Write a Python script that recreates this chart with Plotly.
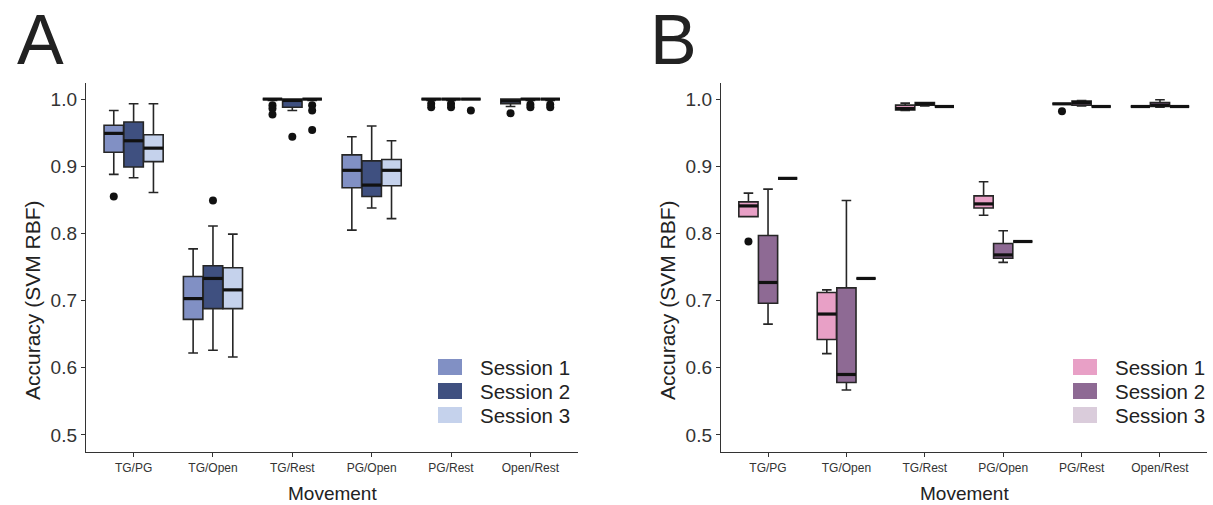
import plotly.graph_objects as go

movements = ["TG/PG", "TG/Open", "TG/Rest", "PG/Open", "PG/Rest", "Open/Rest"]
sessions = ["Session 1", "Session 2", "Session 3"]

# ---------------- Panel A (summary statistics per movement) ----------------
A_s1_lo = [0.888, 0.622, 0.998, 0.805, 0.998, 0.989]
A_s1_q1 = [0.921, 0.672, 1.000, 0.868, 1.000, 0.993]
A_s1_md = [0.949, 0.703, 1.000, 0.894, 1.000, 0.997]
A_s1_q3 = [0.961, 0.736, 1.000, 0.917, 1.000, 1.000]
A_s1_hi = [0.983, 0.777, 1.000, 0.944, 1.000, 1.000]
A_s1_out = [[0.855], [], [0.991, 0.986, 0.977], [], [0.993, 0.988], [0.979]]

A_s2_lo = [0.883, 0.626, 0.983, 0.838, 0.998, 0.998]
A_s2_q1 = [0.899, 0.688, 0.988, 0.855, 1.000, 1.000]
A_s2_md = [0.938, 0.733, 0.998, 0.872, 1.000, 1.000]
A_s2_q3 = [0.966, 0.752, 1.000, 0.908, 1.000, 1.000]
A_s2_hi = [0.993, 0.811, 1.000, 0.960, 1.000, 1.000]
A_s2_out = [[], [0.849], [0.944], [], [0.993, 0.988], [0.992, 0.988]]

A_s3_lo = [0.861, 0.616, 0.998, 0.822, 1.000, 0.998]
A_s3_q1 = [0.907, 0.688, 1.000, 0.871, 1.000, 1.000]
A_s3_md = [0.927, 0.716, 1.000, 0.894, 1.000, 1.000]
A_s3_q3 = [0.947, 0.749, 1.000, 0.910, 1.000, 1.000]
A_s3_hi = [0.993, 0.799, 1.000, 0.938, 1.000, 1.000]
A_s3_out = [[], [], [0.991, 0.983, 0.954], [], [0.983], [0.992, 0.988]]

# ---------------- Panel B ----------------
B_s1_lo = [0.825, 0.621, 0.983, 0.827, 0.993, 0.989]
B_s1_q1 = [0.825, 0.642, 0.984, 0.838, 0.993, 0.989]
B_s1_md = [0.841, 0.680, 0.986, 0.844, 0.993, 0.989]
B_s1_q3 = [0.847, 0.712, 0.991, 0.856, 0.993, 0.989]
B_s1_hi = [0.860, 0.716, 0.994, 0.877, 0.993, 0.989]
B_s1_out = [[0.788], [], [], [], [0.982], []]

B_s2_lo = [0.665, 0.567, 0.990, 0.757, 0.990, 0.988]
B_s2_q1 = [0.696, 0.578, 0.991, 0.763, 0.991, 0.989]
B_s2_md = [0.727, 0.590, 0.993, 0.768, 0.995, 0.991]
B_s2_q3 = [0.797, 0.719, 0.995, 0.785, 0.997, 0.995]
B_s2_hi = [0.866, 0.849, 0.995, 0.804, 0.998, 0.999]
B_s2_out = [[], [], [], [], [], []]

B_s3_val = [0.882, 0.733, 0.989, 0.788, 0.989, 0.989]
B_s3_out = [[], [], [], [], [], []]

colors_A = ["#8190C4", "#3F5080", "#C5D2EC"]
colors_B = ["#E8A0C6", "#8E6A94", "#DACCDB"]

offsets = [-0.25, 0.0, 0.25]
box_w = 0.245
FONT = "Liberation Sans, Arial, Helvetica, sans-serif"
W, H = 1213, 505

panels = [
    dict(xa="x", ya="y", colors=colors_A, leg_x=438,
         stats=[(A_s1_lo, A_s1_q1, A_s1_md, A_s1_q3, A_s1_hi, A_s1_out),
                (A_s2_lo, A_s2_q1, A_s2_md, A_s2_q3, A_s2_hi, A_s2_out),
                (A_s3_lo, A_s3_q1, A_s3_md, A_s3_q3, A_s3_hi, A_s3_out)]),
    dict(xa="x2", ya="y2", colors=colors_B, leg_x=1073,
         stats=[(B_s1_lo, B_s1_q1, B_s1_md, B_s1_q3, B_s1_hi, B_s1_out),
                (B_s2_lo, B_s2_q1, B_s2_md, B_s2_q3, B_s2_hi, B_s2_out),
                (B_s3_val, B_s3_val, B_s3_val, B_s3_val, B_s3_val, B_s3_out)]),
]

fig = go.Figure()
idx = list(range(1, len(movements) + 1))
shapes, ann = [], []
leg_rows = [367, 391, 415]

for p in panels:
    for s, (lo, q1, md, q3, hi, out) in enumerate(p["stats"]):
        xs = [i + offsets[s] for i in idx]
        fig.add_trace(go.Box(
            x=xs, lowerfence=lo, q1=q1, median=md, q3=q3, upperfence=hi,
            width=box_w, whiskerwidth=0.5,
            fillcolor=p["colors"][s], line=dict(color="#262626", width=1.6),
            xaxis=p["xa"], yaxis=p["ya"], showlegend=False, hoverinfo="skip",
        ))
        # thick median lines (ggplot style)
        mx, my = [], []
        for x, m in zip(xs, md):
            mx += [x - box_w / 2, x + box_w / 2, None]
            my += [m, m, None]
        fig.add_trace(go.Scatter(x=mx, y=my, mode="lines",
                                 line=dict(color="#111111", width=3.2),
                                 xaxis=p["xa"], yaxis=p["ya"], showlegend=False,
                                 hoverinfo="skip"))
        # outliers
        ox, oy = [], []
        for x, vals in zip(xs, out):
            for v in vals:
                ox.append(x)
                oy.append(v)
        if ox:
            fig.add_trace(go.Scatter(x=ox, y=oy, mode="markers",
                                     marker=dict(color="#111111", size=8),
                                     xaxis=p["xa"], yaxis=p["ya"], showlegend=False,
                                     hoverinfo="skip"))
        # manual legend key (filled square + label)
        cy = leg_rows[s]
        shapes.append(dict(type="rect", xref="paper", yref="paper",
                           x0=p["leg_x"] / W, x1=(p["leg_x"] + 24) / W,
                           y0=1 - (cy + 8) / H, y1=1 - (cy - 8) / H,
                           fillcolor=p["colors"][s], line=dict(width=0)))
        ann.append(dict(text=sessions[s], x=(p["leg_x"] + 40) / W, y=1 - cy / H,
                        xref="paper", yref="paper", xanchor="left", yanchor="middle",
                        showarrow=False,
                        font=dict(family=FONT, size=20.5, color="#222222")))

axis_common = dict(showgrid=False, zeroline=False, showline=True, linecolor="#333333",
                   linewidth=1.4, ticks="outside", ticklen=4, tickwidth=1.2,
                   tickcolor="#333333")

ydom = [1 - 452 / H, 1 - 83 / H]

xa = dict(axis_common, range=[0.4, 6.6], tickvals=idx, ticktext=movements,
          tickfont=dict(family=FONT, size=12, color="#333333"))
ya = dict(axis_common, range=[0.4746, 1.024], tickvals=[0.5, 0.6, 0.7, 0.8, 0.9, 1.0],
          tickformat=".1f", tickfont=dict(family=FONT, size=19, color="#333333"),
          domain=ydom)

for letter, x in [("A", 40 / W), ("B", 673 / W)]:
    ann.append(dict(text=letter, x=x, y=1 - 40 / H, xref="paper", yref="paper",
                    xanchor="center", yanchor="middle", showarrow=False,
                    font=dict(family=FONT, size=70, color="#222222")))
for x in [32 / W, 667 / W]:
    ann.append(dict(text="Accuracy (SVM RBF)", x=x, y=1 - 300 / H, xref="paper",
                    yref="paper", xanchor="center", yanchor="middle", textangle=-90,
                    showarrow=False, font=dict(family=FONT, size=21, color="#222222")))
for x in [332 / W, 964 / W]:
    ann.append(dict(text="Movement", x=x, y=0, xref="paper", yref="paper",
                    xanchor="center", yanchor="bottom", showarrow=False, borderpad=0,
                    font=dict(family=FONT, size=19, color="#222222")))

fig.update_layout(
    width=W, height=H,
    margin=dict(l=0, r=0, t=0, b=0),
    paper_bgcolor="white", plot_bgcolor="white",
    boxmode="overlay", showlegend=False,
    xaxis=dict(xa, domain=[86 / W, 578 / W], anchor="y"),
    yaxis=dict(ya, anchor="x"),
    xaxis2=dict(xa, domain=[721 / W, 1207 / W], anchor="y2"),
    yaxis2=dict(ya, anchor="x2"),
    font=dict(family=FONT),
    shapes=shapes, annotations=ann,
)

fig.write_html("out.html")
